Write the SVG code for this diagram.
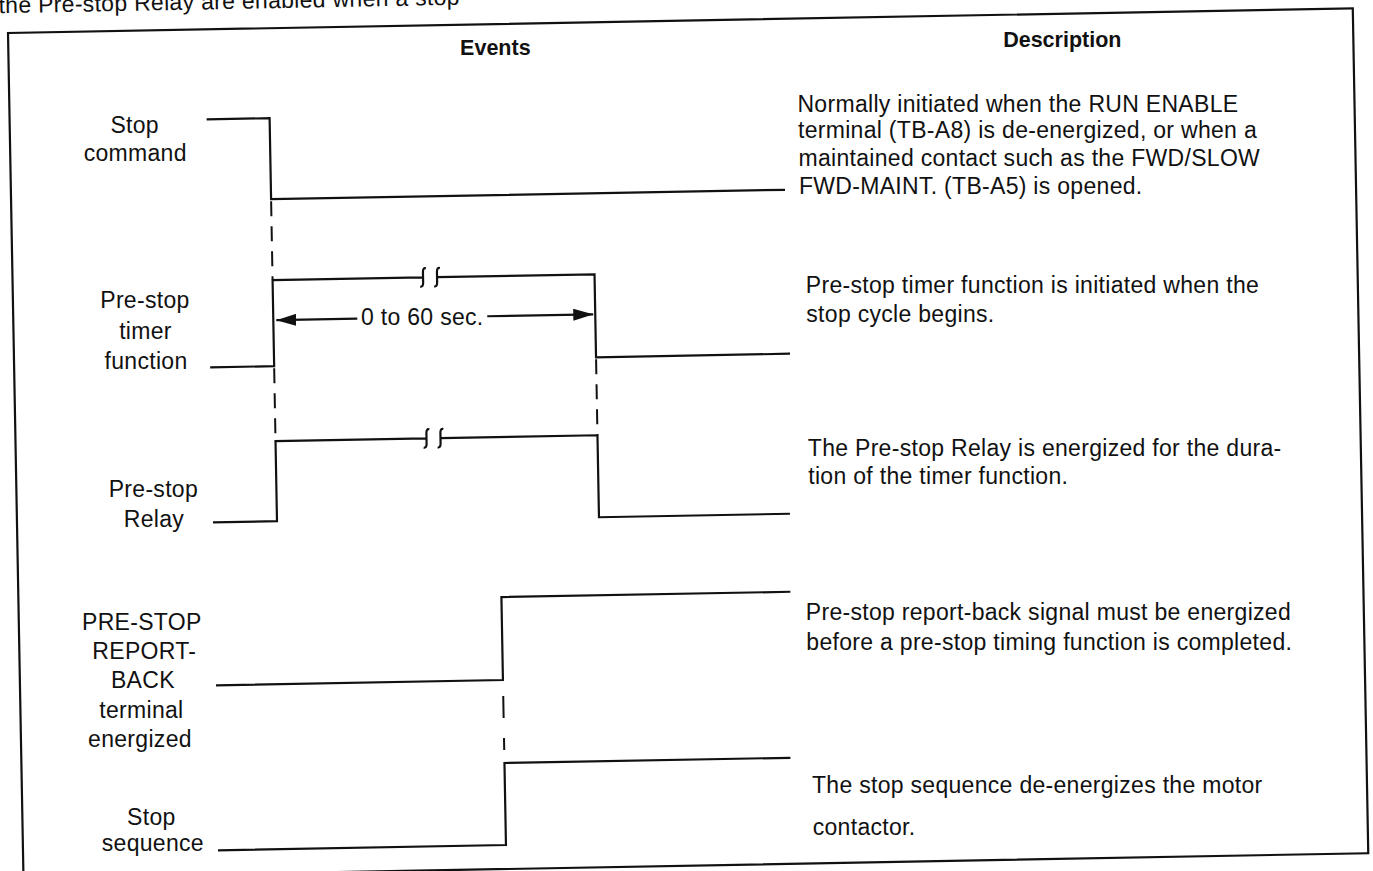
<svg xmlns="http://www.w3.org/2000/svg" width="1373" height="871" viewBox="0 0 1373 871">
<defs>
<style>
.t{font-family:"Liberation Sans",Arial,sans-serif;font-size:23px;letter-spacing:0.3px;fill:#111}
.lb{text-anchor:middle}
.h{font-family:"Liberation Sans",Arial,sans-serif;font-size:21.5px;font-weight:bold;fill:#111;text-anchor:middle}
.lv{transform-box:fill-box;transform-origin:center;transform:rotate(1.05deg)}
.w{fill:none;stroke:#111;stroke-width:2.2}
.d{fill:none;stroke:#111;stroke-width:2;stroke-dasharray:15 10}
.frame{fill:none;stroke:#111;stroke-width:2.2}
</style>
<marker id="ah" markerWidth="20" markerHeight="12" refX="20" refY="6" orient="auto" markerUnits="userSpaceOnUse">
<path d="M0,0 L20,6 L0,12 z" fill="#111"/>
</marker>
</defs>
<rect width="1373" height="871" fill="#fff"/>
<g transform="rotate(-1.05 8 33)">
<text class="t" x="-1" y="13">the Pre-stop Relay are enabled when a stop</text>
<rect class="frame" x="8" y="33" width="1345" height="845"/>
<text class="h lv" x="495" y="64">Events</text>
<text class="h lv" x="1062" y="66">Description</text>

<g id="stop-command">
<text class="t lb lv" x="133" y="135">Stop</text>
<text class="t lb lv" x="133" y="163">command</text>
<path class="w" d="M205,123 H268 V204 H782"/>
<text class="t lv" x="796" y="130">Normally initiated when the RUN ENABLE</text>
<text class="t lv" x="796" y="157">terminal (TB-A8) is de-energized, or when a</text>
<text class="t lv" x="796" y="185">maintained contact such as the FWD/SLOW</text>
<text class="t lv" x="796" y="212">FWD-MAINT. (TB-A5) is opened.</text>
</g>

<g id="pre-stop-timer">
<text class="t lb lv" x="140" y="310">Pre-stop</text>
<text class="t lb lv" x="140" y="341">timer</text>
<text class="t lb lv" x="140" y="371">function</text>
<path class="w" d="M204,371 H268 V285 H418.5 M421.5,276 Q418.5,275 418.5,280 L418.5,290 Q418.5,295 415.5,294 M435.5,276 Q432.5,275 432.5,280 L432.5,290 Q432.5,295 429.5,294 M432.5,285 H590 V368 H784"/>
<text class="t lv" x="801" y="312">Pre-stop timer function is initiated when the</text>
<text class="t lv" x="801" y="338">stop cycle begins.</text>
</g>

<g id="pre-stop-relay">
<text class="t lb lv" x="145" y="500">Pre-stop</text>
<text class="t lb lv" x="145" y="530">Relay</text>
<path class="w" d="M204,526 H268 V446 H419 M422,437 Q419,436 419,441 L419,451 Q419,456 416,455 M436,437 Q433,436 433,441 L433,451 Q433,456 430,455 M433,446 H590 V528 H781"/>
<text class="t lv" x="800" y="475">The Pre-stop Relay is energized for the dura-</text>
<text class="t lv" x="800" y="501">tion of the timer function.</text>
</g>

<g id="report-back">
<text class="t lb lv" x="131" y="632">PRE-STOP</text>
<text class="t lb lv" x="133" y="661">REPORT-</text>
<text class="t lb lv" x="131" y="690">BACK</text>
<text class="t lb lv" x="129" y="720">terminal</text>
<text class="t lb lv" x="127" y="749">energized</text>
<path class="w" d="M204,689 H491 V606 H780"/>
<text class="t lv" x="795" y="639">Pre-stop report-back signal must be energized</text>
<text class="t lv" x="795" y="669">before a pre-stop timing function is completed.</text>
</g>

<g id="stop-sequence">
<text class="t lb lv" x="137" y="827">Stop</text>
<text class="t lb lv" x="138" y="854">sequence</text>
<path class="w" d="M203,854 H491 V772 H777"/>
<text class="t lv" x="798" y="812">The stop sequence de-energizes the motor</text>
<text class="t lv" x="798" y="851">contactor.</text>
</g>

<g id="connectors">
<path class="d" d="M268,206 V284"/>
<path class="d" d="M268,373 V446"/>
<path class="d" d="M590,370 V446"/>
<path class="d" d="M491,705 V772" style="stroke-dasharray:22 20 12 40"/>
<path class="w" d="M352,325 H271" marker-end="url(#ah)"/>
<path class="w" d="M482,325 H588" marker-end="url(#ah)"/>
<text class="t lb lv" x="417" y="333">0 to 60 sec.</text>
</g>
</g>
</svg>
